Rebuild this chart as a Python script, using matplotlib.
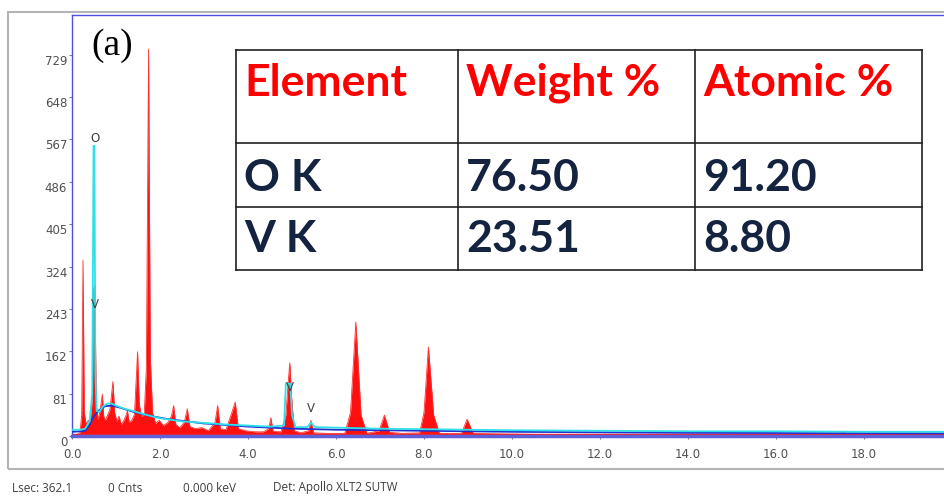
import numpy as np
import matplotlib.pyplot as plt
from matplotlib.lines import Line2D
from matplotlib.patches import Rectangle

W, H = 945, 497

# measured spectrum, counts per channel (keV, counts)
spec_kev = [0.00, 0.10, 0.18, 0.22, 0.25, 0.28, 0.32, 0.37, 0.41, 0.46, 0.49, 0.52, 0.55,
            0.59, 0.63, 0.66, 0.69, 0.72, 0.76, 0.81, 0.86, 0.90, 0.93, 0.97, 1.02, 1.07,
            1.12, 1.18, 1.23, 1.26, 1.30, 1.36, 1.42, 1.46, 1.49, 1.53, 1.58, 1.64, 1.69,
            1.74, 1.78, 1.83, 1.90, 1.98, 2.08, 2.18, 2.26, 2.31, 2.36, 2.45, 2.55, 2.62,
            2.68, 2.80, 2.95, 3.10, 3.25, 3.31, 3.37, 3.50, 3.62, 3.71, 3.78, 3.95, 4.15,
            4.35, 4.47, 4.52, 4.57, 4.75, 4.86, 4.92, 4.95, 4.99, 5.05, 5.20, 5.38, 5.43,
            5.49, 5.80, 6.20, 6.33, 6.45, 6.57, 6.70, 6.98, 7.10, 7.22, 7.50, 7.90, 8.00,
            8.10, 8.22, 8.35, 8.85, 8.98, 9.12, 9.60, 10.5, 12.0, 14.0, 16.0, 17.45,
            17.52, 17.60, 19.0, 20.0]
spec_cnt = [0, 2, 6, 40, 336, 45, 22, 30, 26, 70, 280, 290, 60,
            32, 45, 62, 80, 38, 30, 40, 50, 80, 104, 45, 28, 38,
            22, 30, 40, 48, 26, 30, 42, 110, 161, 60, 38, 40, 130,
            740, 150, 45, 24, 30, 20, 26, 38, 58, 22, 16, 26, 52,
            18, 14, 16, 10, 26, 58, 14, 12, 42, 65, 14, 10, 8,
            8, 14, 35, 9, 8, 40, 110, 140, 75, 10, 6, 10, 30,
            6, 5, 5, 45, 218, 40, 5, 10, 40, 7, 5, 6, 45,
            170, 40, 5, 5, 32, 5, 4, 3, 3, 3, 3, 2,
            8, 2, 2, 2]

# fitted spectrum overlay
fit_kev = [0.00, 0.20, 0.30, 0.40, 0.46, 0.49, 0.51, 0.53, 0.56, 0.62, 0.70, 0.80, 0.90,
           1.00, 1.20, 1.50, 1.80, 2.00, 2.50, 3.00, 3.50, 4.00, 4.50, 4.82, 4.86, 4.89,
           4.96, 5.00, 5.08, 5.35, 5.43, 5.52, 6.00, 7.00, 8.00, 9.00, 10.0, 12.0, 14.0,
           16.0, 18.0, 20.0]
fit_cnt = [12, 12, 14, 28, 80, 555, 555, 120, 48, 46, 56, 62, 62,
           58, 52, 45, 38, 34, 28, 25, 22, 20, 18, 20, 100, 100,
           100, 40, 17, 17, 26, 17, 16, 14, 13, 12, 11, 10, 9,
           9, 8, 8]

# continuum background
bkg_kev = [0.00, 0.20, 0.30, 0.40, 0.50, 0.60, 0.75, 0.90, 1.10, 1.40, 1.80, 2.20,
           3.00, 4.00, 5.00, 6.00, 8.00, 10.0, 14.0, 20.0]
bkg_cnt = [8, 9, 10, 22, 38, 48, 57, 58, 54, 46, 38, 32, 24, 18, 14, 12, 10, 8, 6, 5]

peak_labels = ['O', 'V', 'V', 'V']
label_kev = [0.52, 0.51, 4.95, 5.43]
label_cnt = [568, 252, 92, 52]

x_ticks = [0, 2, 4, 6, 8, 10, 12, 14, 16, 18]
y_ticks = [0, 81, 162, 243, 324, 405, 486, 567, 648, 729]

table_header = ['Element', 'Weight %', 'Atomic %']
table_elements = ['O K', 'V K']
weight_pct = ['76.50', '23.51']
atomic_pct = ['91.20', '8.80']

status_text = ['Lsec: 362.1', '0 Cnts', '0.000 keV', 'Det: Apollo XLT2 SUTW']
status_x = [12, 108, 183, 273]


def fx(x):
    return x / W


def fy(y):
    return 1 - y / H


fig = plt.figure(figsize=(W / 100, H / 100), dpi=100)

# outer software frame
fig.add_artist(Rectangle((fx(8), fy(469)), fx(980 - 8), (469 - 12) / H,
                         transform=fig.transFigure, fill=False,
                         edgecolor='#b4b4b4', lw=1.5))

ax = fig.add_axes([fx(72), fy(436), fx(880), (436 - 15) / H])
ax.set_xlim(0, 20)
ax.set_ylim(0, 805)

ax.fill_between(spec_kev, spec_cnt, 0, color='#ff1010', lw=0, zorder=2)
ax.plot(spec_kev, spec_cnt, color='#ff3030', lw=0.6, zorder=2)
ax.axhline(3, color='#ff2020', lw=1.0, zorder=2)
ax.plot(bkg_kev, bkg_cnt, color='#2030d0', lw=1.3, zorder=3)
ax.plot(fit_kev, fit_cnt, color='#30e0e8', lw=1.3, zorder=4)

for lab, xk, yc in zip(peak_labels, label_kev, label_cnt):
    ax.text(xk, yc, lab, ha='center', va='center', fontsize=8.5,
            color='#404040', zorder=5)

for side in ['left', 'top', 'right']:
    ax.spines[side].set_color('#5050e0')
    ax.spines[side].set_linewidth(1.0)
ax.spines['bottom'].set_color('#6060d8')
ax.spines['bottom'].set_linewidth(2.5)

ax.set_xticks(x_ticks)
ax.set_xticklabels([f'{v:.1f}' for v in x_ticks])
ax.set_yticks(y_ticks)
ax.set_yticklabels([str(v) for v in y_ticks])
plt.setp(ax.get_yticklabels(), va='top')
ax.tick_params(axis='both', length=2.5, width=0.8, color='#808080',
               labelsize=8.5, labelcolor='#505050')
ax.tick_params(axis='x', pad=6)
ax.tick_params(axis='y', pad=1)

fig.text(fx(112), fy(46), '(a)', family='Liberation Serif', fontsize=27,
         ha='center', va='center', color='black')

# composition table
col_x = [236, 458, 695, 922]
row_y = [50, 143, 207, 270]
for x in col_x:
    fig.add_artist(Line2D([fx(x), fx(x)], [fy(row_y[0]), fy(row_y[-1])],
                          transform=fig.transFigure, color='#202020', lw=1.2))
for y in row_y:
    fig.add_artist(Line2D([fx(col_x[0]), fx(col_x[-1])], [fy(y), fy(y)],
                          transform=fig.transFigure, color='#202020', lw=1.2))

cell_font = dict(family='Lato', fontweight='bold', fontsize=32,
                 ha='left', va='center')
for j, head in enumerate(table_header):
    fig.text(fx(col_x[j] + 8), fy(83), head, color='#ff0000', **cell_font)
rows = list(zip(table_elements, weight_pct, atomic_pct))
for row, yc in zip(rows, [178, 239]):
    for j, val in enumerate(row):
        fig.text(fx(col_x[j] + 8), fy(yc), val, color='#14233f', **cell_font)

for txt, x in zip(status_text, status_x):
    fig.text(fx(x), fy(488), txt, fontsize=8.5, color='#404040',
             ha='left', va='center', family='Open Sans')

fig.savefig('out.png', dpi=100)
